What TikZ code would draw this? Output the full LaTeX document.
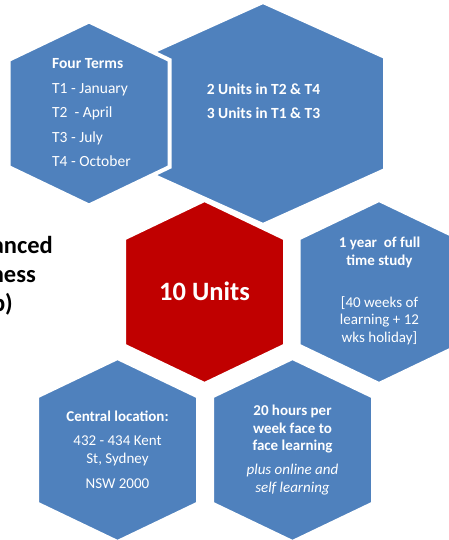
\documentclass[tikz,border=0pt]{standalone}
\usepackage{fontspec}
\setmainfont{Carlito}
\definecolor{cellblue}{RGB}{79,129,189}
\definecolor{cellred}{RGB}{192,0,0}
% hexagon: centre x, centre y, half width, half height, side offset, colour
\newcommand{\hexcell}[6]{%
  \filldraw[cell, fill=#6] (#1,#2) +(0,-#4) -- +(#3,-#5) -- +(#3,#5)
    -- +(0,#4) -- +(-#3,#5) -- +(-#3,-#5) -- cycle;}
\begin{document}
\begin{tikzpicture}[x=1pt, y=-1pt,
			cell/.style={draw=white, line width=4pt, line join=miter},
			celltext/.style={text=white, inner sep=0pt, align=center},
			title/.style={anchor=base east, inner sep=0pt, font=\fontsize{24.5}{29}\selectfont\bfseries}
			]
			\useasboundingbox (0,0) rectangle (449,540);
			\clip (0,0) rectangle (449,540);
			% upper pair
			\hexcell{263}{113.5}{122}{111.5}{56.5}{cellblue}
			\hexcell{89}{113.5}{80.5}{92}{53.5}{cellblue}
			% middle row
			\hexcell{204.5}{292}{80.5}{92}{53.5}{cellred}
			\hexcell{379}{292}{80.5}{92}{53.5}{cellblue}
			% lower pair
			\hexcell{117.5}{450}{80.5}{92}{53.5}{cellblue}
			\hexcell{292.5}{450}{80.5}{92}{53.5}{cellblue}
			% texts
			\node [celltext, anchor=west, align=left, font=\fontsize{15.5}{24.5}\selectfont] (terms) at (52,113)
				{\textbf{Four Terms}\\T1 - January\\T2 \ - April\\T3 - July\\T4 - October};
			\node [celltext, font=\fontsize{15.5}{24}\selectfont\bfseries] (split) at (263.5,101)
				{2 Units in T2 \& T4\\3 Units in T1 \& T3};
			\node [celltext, font=\fontsize{26.5}{30}\selectfont\bfseries] (units) at (204.5,291) {10 Units};
			\node [celltext, font=\fontsize{15}{17.8}\selectfont] (duration) at (379.5,291)
				{\textbf{1 year \ of full}\\\textbf{time study}\\[24pt][40 weeks of\\learning + 12\\wks holiday]};
			\node [celltext, font=\fontsize{15}{18}\selectfont] (location) at (117.5,450)
				{\textbf{Central location:}\\[6pt]432 - 434 Kent\\St, Sydney\\[7pt]NSW 2000};
			\node [celltext, font=\fontsize{15}{17.8}\selectfont] (hours) at (292.5,450)
				{\textbf{20 hours per}\\\textbf{week face to}\\\textbf{face learning}\\[6pt]\textit{plus online and}\\\textit{self learning}};
			% clipped title at the left
			\node [title] (title1) at (53,253) {Advanced};
			\node [title] (title2) at (36,282) {Business};
			\node [title] (title3) at (13,311) {(Adv Dip)};
		\end{tikzpicture}
\end{document}
